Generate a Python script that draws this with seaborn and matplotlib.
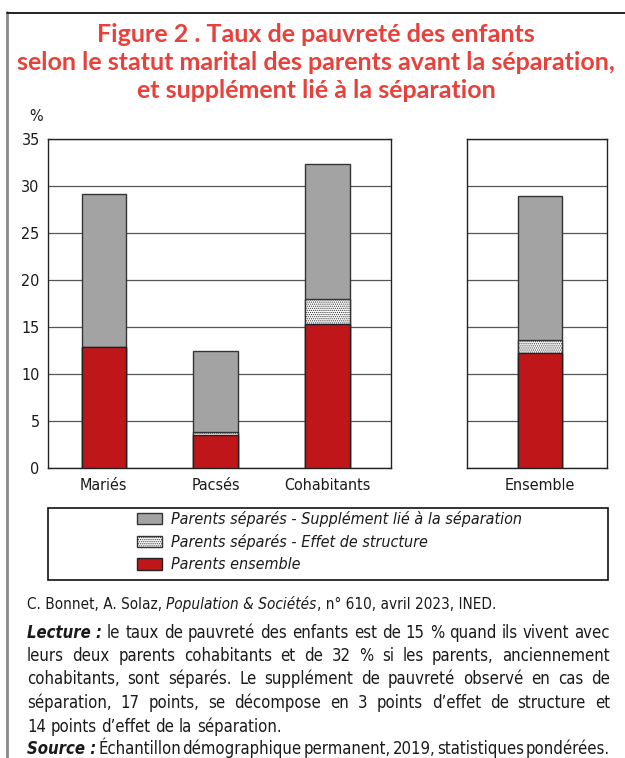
import os
import matplotlib
matplotlib.use("Agg")
import matplotlib.pyplot as plt
import seaborn as sns
import pandas as pd
from matplotlib import font_manager
from matplotlib.patches import Patch, Rectangle
from matplotlib.lines import Line2D

# ---------------- data ----------------
categories = ["Mariés", "Pacsés", "Cohabitants"]
parents_ensemble = [12.9, 3.5, 15.3]
effet_structure = [0.0, 0.4, 2.7]
supplement_separation = [16.3, 8.6, 14.4]

ensemble_category = ["Ensemble"]
ensemble_parents_ensemble = [12.3]
ensemble_effet_structure = [1.4]
ensemble_supplement = [15.3]

y_ticks = [0, 5, 10, 15, 20, 25, 30, 35]
legend_labels = ["Parents séparés - Supplément lié à la séparation",
                 "Parents séparés - Effet de structure",
                 "Parents ensemble"]
title_lines = ["Figure 2 . Taux de pauvreté des enfants",
               "selon le statut marital des parents avant la séparation,",
               "et supplément lié à la séparation"]

RED = "#bf1719"
GRAY = "#a3a3a3"
TITLE_RED = "#e8403a"
EDGE = "#333333"
HATCH = "........"

sns.set_theme(style="white")
plt.rcParams["font.family"] = ["Liberation Sans", "DejaVu Sans"]
plt.rcParams["hatch.linewidth"] = 0.6


def find_file(cands):
    files = {os.path.basename(f.fname): f.fname for f in font_manager.fontManager.ttflist}
    for c in cands:
        if c in files:
            return files[c]
    return None


def make_fp(cands, style="normal", weight="normal"):
    f = find_file(cands)
    if f:
        return font_manager.FontProperties(fname=f)
    return font_manager.FontProperties(family="Liberation Sans", style=style, weight=weight)


fp_reg = make_fp(["LiberationSansNarrow-Regular.ttf", "DejaVuSansCondensed.ttf"])
fp_it = make_fp(["LiberationSansNarrow-Italic.ttf", "DejaVuSansCondensed-Oblique.ttf"], style="italic")
fp_bi = make_fp(["LiberationSansNarrow-BoldItalic.ttf", "DejaVuSansCondensed-BoldOblique.ttf"],
                style="italic", weight="bold")
fp_title = font_manager.FontProperties(family="Lato", weight="bold")


def sized(fp, s):
    p = fp.copy()
    p.set_size(s)
    return p


W, H = 625, 758
fig = plt.figure(figsize=(W / 100, H / 100), dpi=100)
fig.patch.set_facecolor("white")
renderer = fig.canvas.get_renderer()


def fx(x):
    return x / W


def fy(y):
    return 1 - y / H


# ---------------- axes ----------------
y0, y35 = 468.3, 139.3
ax1 = fig.add_axes([fx(48), fy(y0), (391 - 48) / W, (y0 - y35) / H])
ax2 = fig.add_axes([fx(467), fy(y0), (607 - 467) / W, (y0 - y35) / H])

df1 = pd.DataFrame({"cat": categories, "red": parents_ensemble,
                    "struct": effet_structure, "sep": supplement_separation})
df2 = pd.DataFrame({"cat": ensemble_category, "red": ensemble_parents_ensemble,
                    "struct": ensemble_effet_structure, "sep": ensemble_supplement})

for ax, df in [(ax1, df1), (ax2, df2)]:
    df = df.copy()
    df["mid"] = df["red"] + df["struct"]
    df["total"] = df["mid"] + df["sep"]
    sns.barplot(data=df, x="cat", y="total", color=GRAY, saturation=1, edgecolor=EDGE,
                linewidth=1.0, width=0.4, ax=ax, zorder=3)
    sns.barplot(data=df, x="cat", y="mid", color="white", saturation=1, edgecolor=EDGE,
                linewidth=1.0, width=0.4, hatch=HATCH, ax=ax, zorder=3)
    sns.barplot(data=df, x="cat", y="red", color=RED, saturation=1, edgecolor="#222222",
                linewidth=1.0, width=0.4, ax=ax, zorder=3)
    ax.set_ylim(0, 35)
    ax.set_yticks(y_ticks)
    ax.yaxis.grid(True, color="#555555", linewidth=0.9)
    ax.xaxis.grid(False)
    ax.set_axisbelow(True)
    ax.set_xlabel("")
    ax.set_ylabel("")
    for sp in ax.spines.values():
        sp.set_visible(True)
        sp.set_color("#222222")
        sp.set_linewidth(1.0)
    ax.tick_params(axis="x", length=0, pad=7, labelsize=11.5)
    ax.tick_params(axis="y", length=0, pad=6, labelsize=11.5)
    for lbl in ax.get_xticklabels() + ax.get_yticklabels():
        lbl.set_fontproperties(sized(fp_reg, 11.5))
        lbl.set_color("#1a1a1a")

ax1.set_xlim(-0.5, 2.57)
ax2.set_xlim(-0.653, 0.6)
ax2.tick_params(axis="y", labelleft=False)

# ---------------- frame ----------------
fig.add_artist(Line2D([fx(7), fx(7)], [fy(12), fy(760)], color="#8a8a8a", linewidth=2.0))
fig.add_artist(Line2D([fx(7), fx(626)], [fy(12.5), fy(12.5)], color="#111111", linewidth=1.3))

# ---------------- title ----------------
tmp = fig.text(0, 0, title_lines[1], fontproperties=sized(fp_title, 20))
wt = tmp.get_window_extent(renderer).width
tmp.remove()
tsize = 20 * 598 / wt
for line, yb in zip(title_lines, [42, 70, 98]):
    fig.text(fx(316), fy(yb), line, fontproperties=sized(fp_title, tsize), color=TITLE_RED,
             ha="center", va="baseline")

fig.text(fx(29), fy(121), "%", fontproperties=sized(fp_reg, 11.5), color="#1a1a1a",
         ha="left", va="baseline")

# ---------------- legend ----------------
fig.add_artist(Rectangle((fx(48), fy(580)), (608 - 48) / W, (580 - 508) / H,
                         transform=fig.transFigure, fill=False, edgecolor="#111111",
                         linewidth=1.2))
handles = [Patch(facecolor=GRAY, edgecolor=EDGE, linewidth=1.0),
           Patch(facecolor="white", edgecolor=EDGE, hatch=HATCH, linewidth=1.0),
           Patch(facecolor=RED, edgecolor="#222222", linewidth=1.0)]
leg = fig.legend(handles, legend_labels, loc="upper left",
                 bbox_to_anchor=(fx(137), fy(511)), frameon=False,
                 prop=sized(fp_it, 11.5), borderpad=0, borderaxespad=0,
                 handlelength=1.55, handleheight=0.75, handletextpad=0.55,
                 labelspacing=0.45)
for t in leg.get_texts():
    t.set_color("#1a1a1a")

# ---------------- notes ----------------
BODY = 13.0


def width_of(s, fp):
    t = fig.text(0, 0, s, fontproperties=fp)
    w = t.get_window_extent(renderer).width
    t.remove()
    return w


X0, X1 = 27, 610
body_lines = [
    [("Lecture :", fp_bi)] + [(w, fp_reg) for w in
                              "le taux de pauvreté des enfants est de 15 % quand ils vivent avec".split()],
    [(w, fp_reg) for w in "leurs deux parents cohabitants et de 32 % si les parents, anciennement".split()],
    [(w, fp_reg) for w in "cohabitants, sont séparés. Le supplément de pauvreté observé en cas de".split()],
    [(w, fp_reg) for w in "séparation, 17 points, se décompose en 3 points d’effet de structure et".split()],
    [(w, fp_reg) for w in "14 points d’effet de la séparation.".split()],
    [("Source :", fp_bi)] + [(w, fp_reg) for w in
                             "Échantillon démographique permanent, 2019, statistiques pondérées.".split()],
]
justify = [True, True, True, True, False, True]
baselines = [637.5, 661, 684.5, 708, 731.5, 754.5]

# fit size so that the widest justified line fits with normal spaces
sp_w = width_of("a a", sized(fp_reg, BODY)) - width_of("aa", sized(fp_reg, BODY))
maxw = 0
for toks in body_lines[:4]:
    tw = sum(width_of(s, sized(fp, BODY)) for s, fp in toks) + sp_w * (len(toks) - 1)
    maxw = max(maxw, tw)
if maxw > (X1 - X0) * 0.99:
    BODY = BODY * (X1 - X0) * 0.99 / maxw
sp_w = width_of("a a", sized(fp_reg, BODY)) - width_of("aa", sized(fp_reg, BODY))


def draw_tokens(tokens, yb, just):
    ws = [width_of(s, sized(fp, BODY)) for s, fp in tokens]
    if just:
        gap = max((X1 - X0 - sum(ws)) / (len(tokens) - 1), 1.2)
    else:
        gap = sp_w
    x = X0
    for (s, fp), w in zip(tokens, ws):
        fig.text(fx(x), fy(yb), s, fontproperties=sized(fp, BODY), color="#1a1a1a",
                 ha="left", va="baseline")
        x += w + gap


for toks, yb, j in zip(body_lines, baselines, justify):
    draw_tokens(toks, yb, j)

# source line
src = [("C. Bonnet, A. Solaz, ", fp_reg), ("Population & Sociétés", fp_it),
       (", n° 610, avril 2023, INED.", fp_reg)]
SRC_SIZE = BODY * 0.92
x = X0
for s, fp in src:
    p = sized(fp, SRC_SIZE)
    fig.text(fx(x), fy(609), s, fontproperties=p, color="#1a1a1a", ha="left", va="baseline")
    x += width_of(s.rstrip(), p) + (sp_w * 0.92 if s.endswith(" ") else 0)

fig.savefig("out.png", dpi=100, facecolor="white")
